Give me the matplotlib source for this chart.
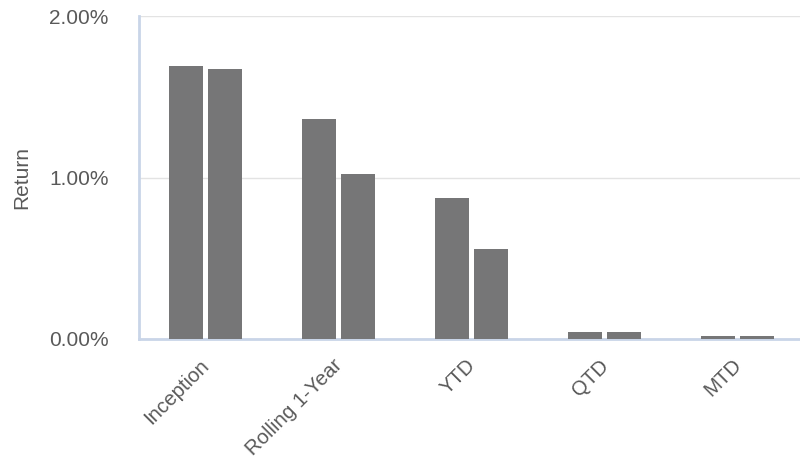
import matplotlib
matplotlib.use('Agg')
import matplotlib.pyplot as plt
import matplotlib.transforms as mtransforms
import numpy as np
from matplotlib.ticker import FuncFormatter

plt.rcParams['font.family'] = ['Liberation Sans', 'DejaVu Sans']

categories = ['Inception', 'Rolling 1-Year', 'YTD', 'QTD', 'MTD']
series_a = [1.69, 1.36, 0.87, 0.043, 0.02]
series_b = [1.67, 1.02, 0.56, 0.043, 0.02]

BAR = '#767677'
TXT = '#595959'
AXIS = '#c9d5e8'
GRID = '#e3e3e3'

fig = plt.figure(figsize=(8, 4.63), dpi=100, facecolor='white')
ax = fig.add_axes([139/800, 1-339/463, 661/800, (339-16)/463])

x = np.arange(len(categories))
w = 0.256
off = 0.15
ax.bar(x - off, series_a, width=w, color=BAR, zorder=3)
ax.bar(x + off, series_b, width=w, color=BAR, zorder=3)

ax.set_xlim(-0.5, -0.5 + 661/133)
ax.set_ylim(0, 2)
ax.set_yticks([0, 1, 2])
ax.yaxis.set_major_formatter(FuncFormatter(lambda v, p: f'{v:.2f}%'))
ax.grid(axis='y', color=GRID, lw=1, zorder=0)

for s in ['top', 'right']:
    ax.spines[s].set_visible(False)
for s in ['left', 'bottom']:
    ax.spines[s].set_color(AXIS)
    ax.spines[s].set_linewidth(2)

ax.tick_params(axis='y', length=0, pad=22, labelsize=15, labelcolor=TXT)
ax.tick_params(axis='x', length=0, pad=12, labelsize=14.7, labelcolor=TXT)
ax.set_xticks(x)
ax.set_xticklabels(categories, rotation=45, ha='right', rotation_mode='anchor')
# nudge labels a bit left
shift = mtransforms.ScaledTranslation(-6/100, 0, fig.dpi_scale_trans)
for lbl in ax.get_xticklabels():
    lbl.set_transform(lbl.get_transform() + shift)

ax.set_ylabel('Return', fontsize=15, color=TXT, labelpad=13)

fig.savefig('out.png', dpi=100, facecolor='white')
